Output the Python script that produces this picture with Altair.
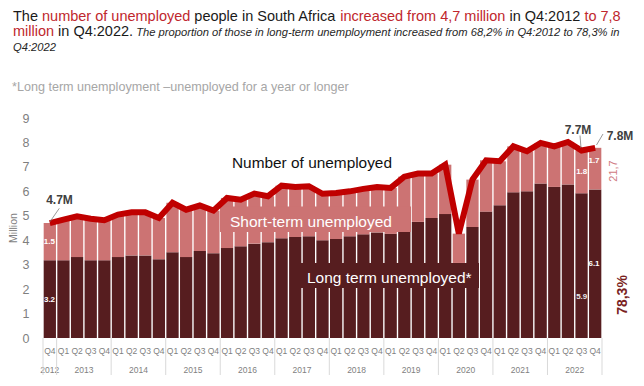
import altair as alt
import pandas as pd

# ---------------- data ----------------
quarters = ["Q4"] + ["Q1", "Q2", "Q3", "Q4"] * 10
years = ["2012"] + [str(y) for y in range(2013, 2023) for _ in range(4)]
long_term = [3.18, 3.18, 3.31, 3.18, 3.18, 3.31, 3.38, 3.38, 3.22, 3.51, 3.31,
             3.56, 3.47, 3.68, 3.75, 3.86, 3.92, 4.08, 4.13, 4.16, 4.00, 4.05,
             4.16, 4.24, 4.32, 4.26, 4.38, 4.75, 4.91, 5.07, 3.07, 4.54, 5.17,
             5.43, 5.96, 6.00, 6.32, 6.18, 6.28, 5.92, 6.08]
short_term = [1.52, 1.66, 1.67, 1.70, 1.64, 1.74, 1.76, 1.76, 1.69, 2.02, 1.94,
              1.86, 1.74, 2.05, 1.91, 2.05, 1.88, 2.15, 2.05, 2.05, 1.90, 1.88,
              1.84, 1.86, 1.86, 1.88, 2.22, 1.98, 1.82, 2.02, 1.20, 1.94, 2.10,
              1.80, 1.88, 1.64, 1.66, 1.66, 1.74, 1.75, 1.70]
y_ticks = list(range(10))

# ---------------- style ----------------
W, H = 559, 220
FONT = "Liberation Sans"
DARK = "#561D1F"
PINK = "#CC7373"
RED = "#C00000"
TRED = "#C0272D"
GRAY = "#7F7F7F"

df = pd.DataFrame({"idx": list(range(len(quarters))), "quarter": quarters,
                   "year": years, "long": long_term, "short": short_term})

xs = alt.Scale(domain=[-0.5, len(quarters) - 0.5], nice=False, zero=False)
ys = alt.Scale(domain=[0, 9], nice=False)
yaxis = alt.Axis(values=y_ticks, tickCount=10, grid=False, domain=False,
                 ticks=False, title=None, labelOverlap=False,
                 labelFontSize=12.5, labelColor=GRAY, labelFont=FONT,
                 labelPadding=14)

base = alt.Chart(df).transform_calculate(
    x1="datum.idx - 0.45", x2="datum.idx + 0.45",
    zero="0", total="datum.long + datum.short")

long_bars = base.mark_rect(color=DARK).encode(
    x=alt.X("x1:Q", scale=xs, axis=None), x2="x2:Q",
    y=alt.Y("zero:Q", scale=ys, axis=yaxis), y2="long:Q")

short_bars = base.mark_rect(color=PINK).encode(
    x=alt.X("x1:Q", scale=xs, axis=None), x2="x2:Q",
    y=alt.Y("long:Q", scale=ys, axis=yaxis), y2="total:Q")

line = base.mark_line(color=RED, strokeWidth=6).encode(
    x=alt.X("idx:Q", scale=xs, axis=None),
    y=alt.Y("total:Q", scale=ys, axis=yaxis))

q_labels = alt.Chart(df).mark_text(fontSize=8.5, color=GRAY, font=FONT,
                                   baseline="middle").encode(
    x=alt.X("idx:Q", scale=xs, axis=None), y=alt.value(H + 13),
    text="quarter:N")

yr_labels = alt.Chart(df).transform_aggregate(
    center="mean(idx)", groupby=["year"]).mark_text(
    fontSize=8.5, color=GRAY, font=FONT, baseline="middle").encode(
    x=alt.X("center:Q", scale=xs, axis=None), y=alt.value(H + 31.5),
    text="year:N")

sep_start = alt.Chart(df).transform_aggregate(
    s="min(idx)", groupby=["year"]).transform_calculate(
    b="datum.s - 0.5").mark_rule(color="#D9D9D9", strokeWidth=1).encode(
    x=alt.X("b:Q", scale=xs, axis=None), y=alt.value(H), y2=alt.value(H + 37))

sep_end = alt.Chart(df).transform_aggregate(
    s="max(idx)").transform_calculate(
    b="datum.s + 0.5").mark_rule(color="#D9D9D9", strokeWidth=1).encode(
    x=alt.X("b:Q", scale=xs, axis=None), y=alt.value(H), y2=alt.value(H + 37))


# ---------------- annotation helpers ----------------
def label(text, x, y, **kw):
    return alt.Chart(pd.DataFrame({"t": [text]})).mark_text(font=FONT, **kw).encode(
        x=alt.value(x), y=alt.value(y), text="t:N")


def rule(x1, y1, x2, y2, color=GRAY, width=0.8):
    return alt.Chart(pd.DataFrame({"a": [0]})).mark_rule(
        color=color, strokeWidth=width).encode(
        x=alt.value(x1), y=alt.value(y1), x2=alt.value(x2), y2=alt.value(y2))


def box(x1, y1, x2, y2, color):
    return alt.Chart(pd.DataFrame({"a": [0]})).mark_rect(color=color).encode(
        x=alt.value(x1), y=alt.value(y1), x2=alt.value(x2), y2=alt.value(y2))


AW = {' ': 278, '%': 889, '*': 389, ',': 278, '-': 333, '.': 278, ':': 278,
      '–': 556, 'A': 667, 'L': 556, 'M': 833, 'N': 722, 'Q': 778, 'S': 667,
      'T': 611, 'a': 556, 'b': 556, 'c': 500, 'd': 556, 'e': 556, 'f': 278,
      'g': 556, 'h': 556, 'i': 222, 'j': 222, 'k': 500, 'l': 222, 'm': 833,
      'n': 556, 'o': 556, 'p': 556, 'q': 556, 'r': 333, 's': 500, 't': 278,
      'u': 556, 'v': 500, 'w': 722, 'x': 500, 'y': 500, 'z': 500}


def tw(s, size):
    return sum(AW.get(c, 556) for c in s) / 1000 * size


def seg_line(segments, x0, y):
    out = []
    cur = x0
    for text, color, size, style in segments:
        lead = len(text) - len(text.lstrip(" "))
        trail = len(text) - len(text.rstrip(" "))
        core = text.strip(" ")
        cur += lead * 0.278 * size
        out.append(label(core, cur, y, align="left", baseline="alphabetic",
                         fontSize=size, color=color, fontStyle=style))
        cur += tw(core, size) + trail * 0.278 * size
    return out


TS = 14.5
IS = 11.2
title1 = seg_line([("The ", "#1A1A1A", TS, "normal"),
                   ("number of unemployed", TRED, TS, "normal"),
                   (" people in South Africa ", "#1A1A1A", TS, "normal"),
                   ("increased from 4,7 million", TRED, TS, "normal"),
                   (" in Q4:2012 ", "#1A1A1A", TS, "normal"),
                   ("to 7,8", TRED, TS, "normal")], -30, -97)
title2 = seg_line([("million", TRED, TS, "normal"),
                   (" in Q4:2022.", "#1A1A1A", TS, "normal"),
                   (" The proportion of those in long-term unemployment increased "
                    "from 68,2% in Q4:2012 to 78,3% in", "#262626", IS, "italic")],
                  -30, -82)
title3 = seg_line([("Q4:2022", "#262626", IS, "italic")], -30, -67.5)
footnote = [label("*Long term unemployment –unemployed for a year or longer",
                  -31, -27, align="left", baseline="alphabetic",
                  fontSize=12.6, color="#A6A6A6")]

annotations = [
    box(177, 88.5, 368, 114, PINK),
    box(253, 145, 436, 170, DARK),
    label("Number of unemployed", 189, 44.7, align="left", baseline="middle",
          fontSize=15.4, color="#111111"),
    label("Short-term unemployed", 187, 103.7, align="left", baseline="middle",
          fontSize=15.5, color="white"),
    label("Long term unemployed*", 264, 160, align="left", baseline="middle",
          fontSize=15.5, color="white"),
    label("Million", -29, 110, angle=270, align="center", baseline="middle",
          fontSize=10.5, color=GRAY),
]

callouts = [
    label("4.7M", 16.5, 82, align="center", baseline="middle", fontSize=12,
          fontWeight="bold", color="#404040"),
    rule(16.3, 90.3, 7, 103.7),
    label("7.7M", 535, 12, align="center", baseline="middle", fontSize=12,
          fontWeight="bold", color="#404040"),
    rule(537, 17.5, 538, 30),
    label("7.8M", 577, 18, align="center", baseline="middle", fontSize=12,
          fontWeight="bold", color="#404040"),
    rule(560, 16, 553.5, 27),
    label("21,7", 570.5, 53, angle=270, align="center", baseline="middle",
          fontSize=11, color="#D07A82"),
    label("78,3%", 579.5, 177, angle=270, align="center", baseline="middle",
          fontSize=14, fontWeight="bold", color="#7A1F22"),
    label("1.5", 6.3, 123.7, align="center", baseline="middle", fontSize=8,
          fontWeight="bold", color="white"),
    label("3.2", 6.5, 182, align="center", baseline="middle", fontSize=8,
          fontWeight="bold", color="white"),
    label("1.8", 538.7, 53.7, align="center", baseline="middle", fontSize=8,
          fontWeight="bold", color="white"),
    label("1.7", 551, 43, align="center", baseline="middle", fontSize=8,
          fontWeight="bold", color="white"),
    label("5.9", 538.7, 178.7, align="center", baseline="middle", fontSize=8,
          fontWeight="bold", color="#E8E8E8"),
    label("6.1", 551, 146, align="center", baseline="middle", fontSize=8,
          fontWeight="bold", color="white"),
]

chart = alt.layer(
    long_bars, short_bars, *annotations, line, q_labels, yr_labels,
    sep_start, sep_end, *title1, *title2, *title3, *footnote, *callouts
).properties(
    width=W, height=H,
    padding={"left": 35, "top": 110, "right": 34, "bottom": 40},
    autosize=alt.AutoSizeParams(type="none"),
).configure_view(stroke=None)

chart.save("out.html", embed_options={"renderer": "svg", "actions": False})
